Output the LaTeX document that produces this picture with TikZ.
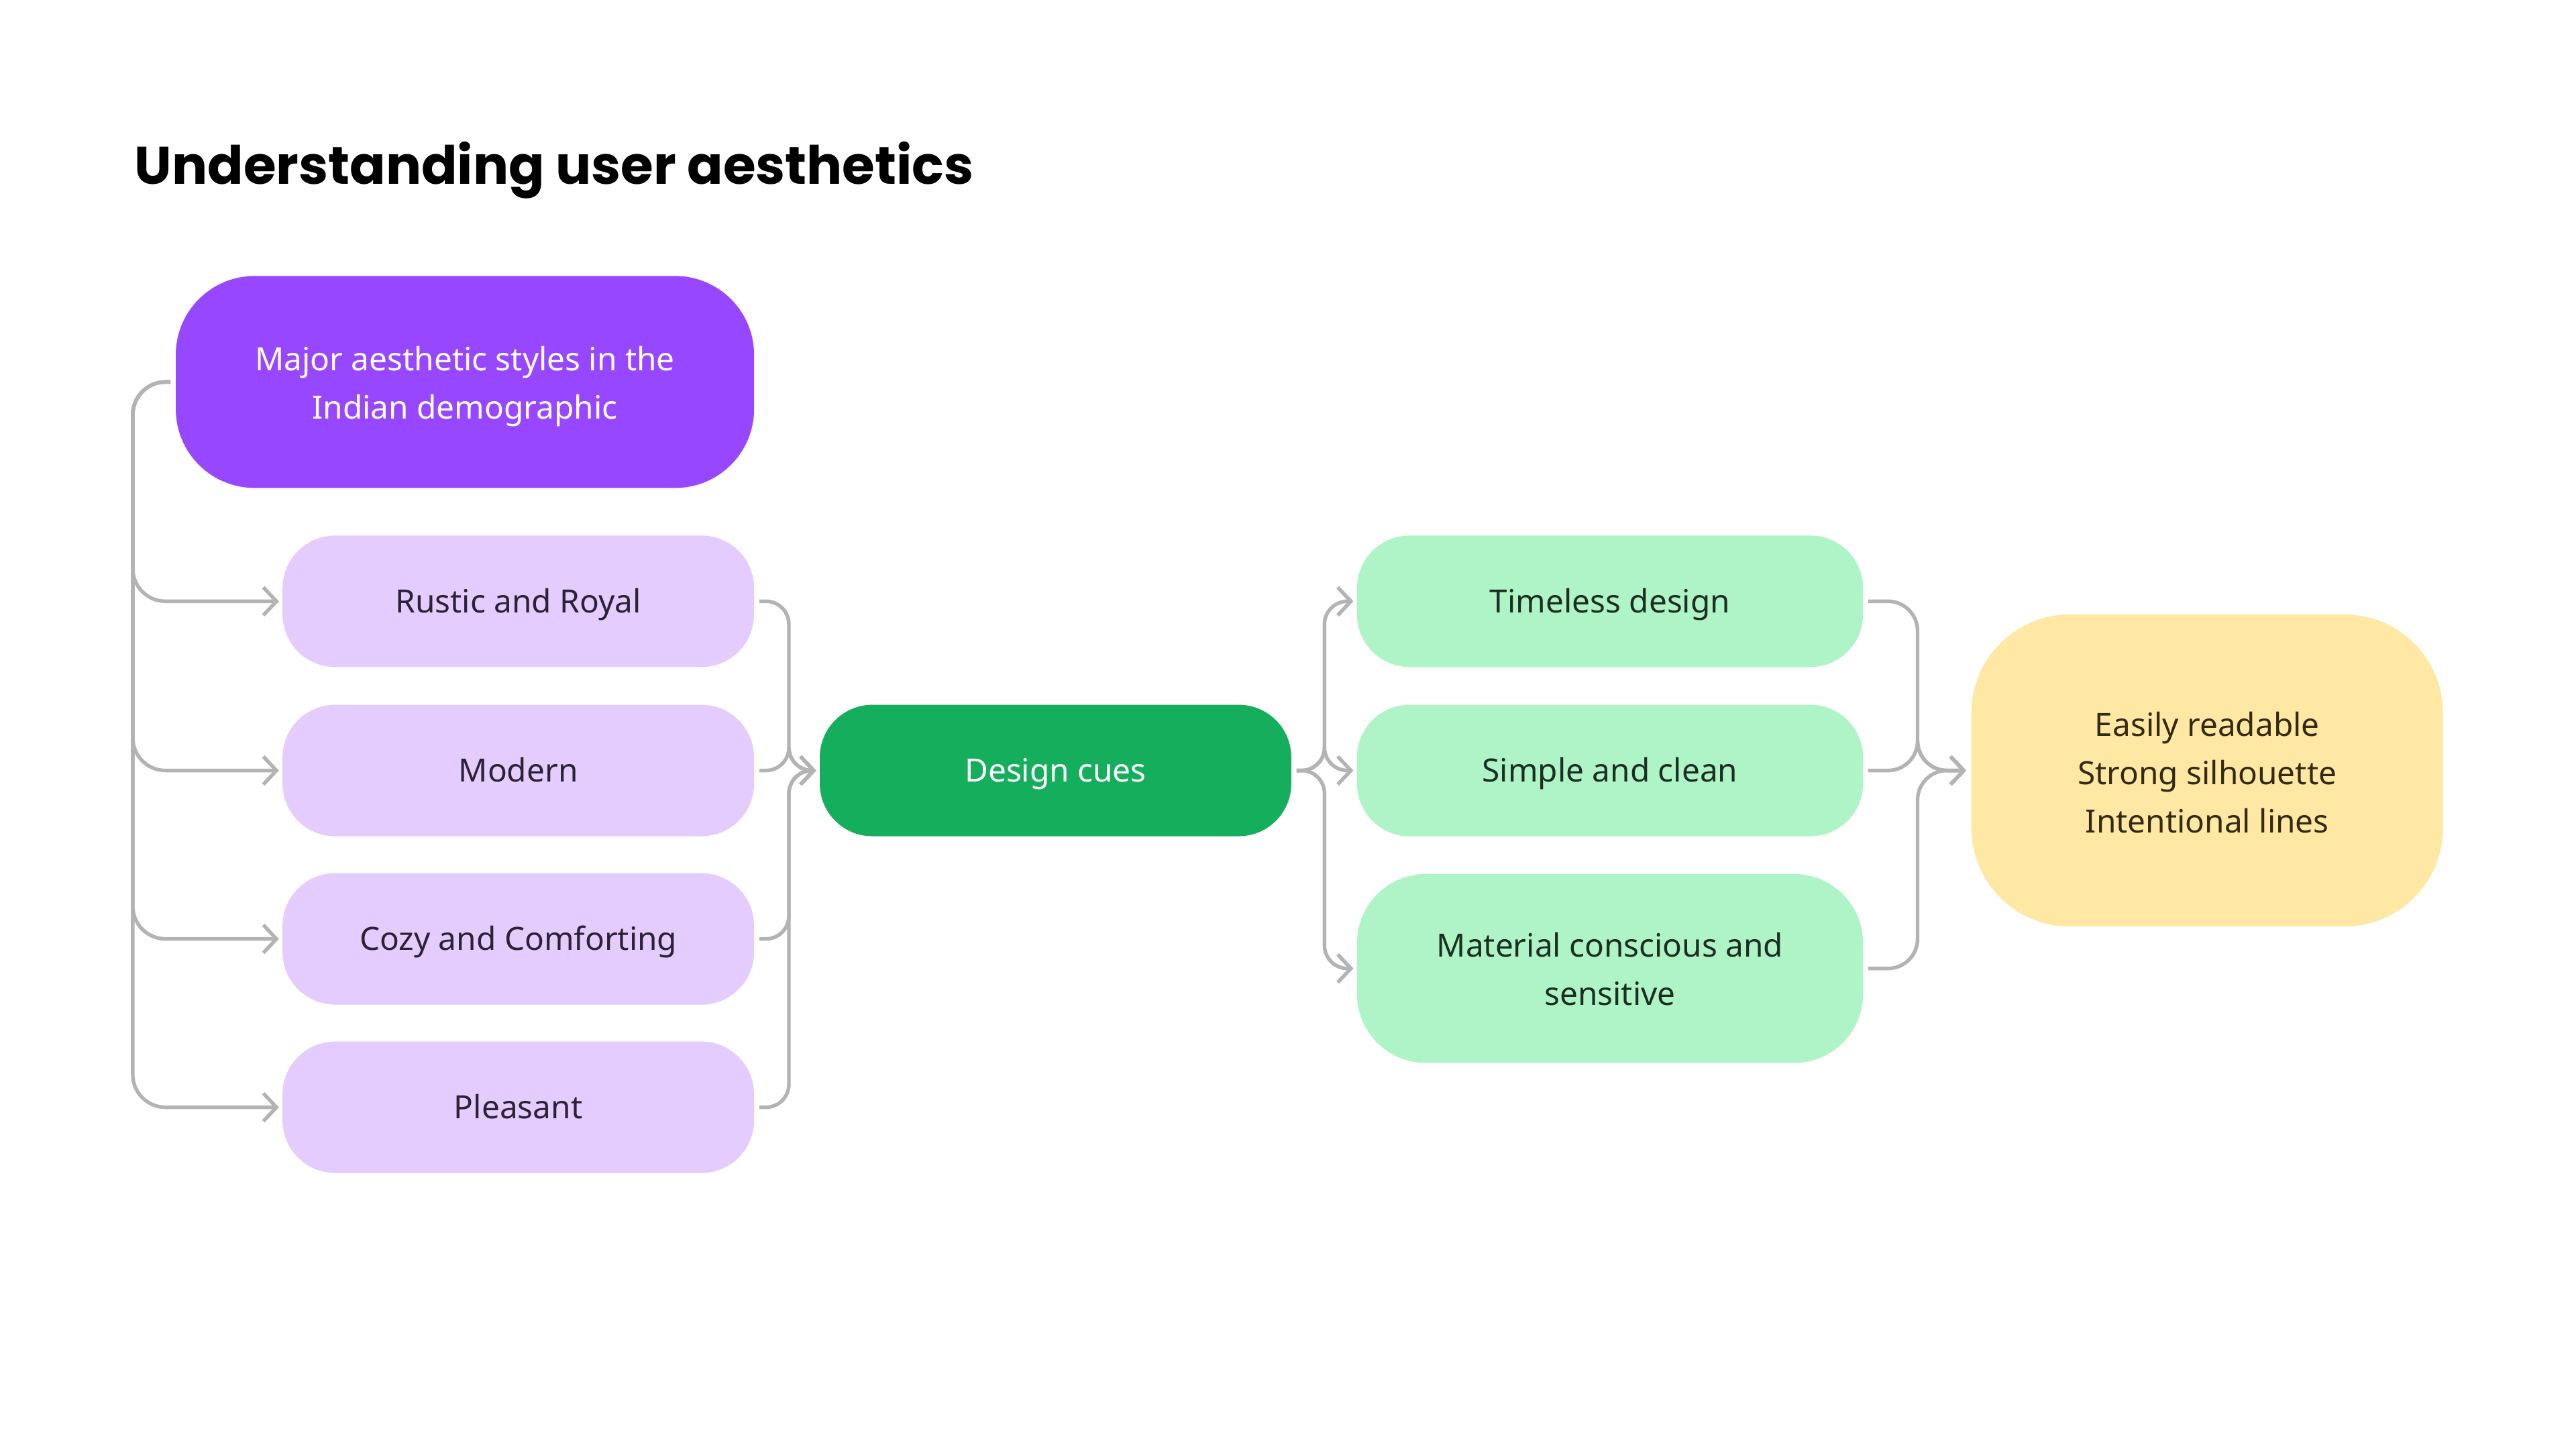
\documentclass[tikz,border=0pt]{standalone}
\usepackage{fontspec}
\setmainfont{Noto Sans}
\newfontfamily\titlefont{Poppins}
\usepackage{xcolor}
\definecolor{purpleUA}{HTML}{9747FF}
\definecolor{lilacUA}{HTML}{E4CCFF}
\definecolor{greenUA}{HTML}{14AE5C}
\definecolor{mintUA}{HTML}{AFF4C6}
\definecolor{yellowUA}{HTML}{FFE8A3}
\definecolor{linkUA}{HTML}{B3B3B3}
\definecolor{lilacTextUA}{HTML}{2B2233}
\definecolor{mintTextUA}{HTML}{1C2E22}
\definecolor{yellowTextUA}{HTML}{332A14}
\usepackage{tikz}
\usetikzlibrary{arrows.meta, positioning}
\tikzset{
  box/.style={rectangle, rounded corners=32pt, minimum width=287pt, minimum height=80pt,
    inner sep=0pt, align=center, font=\fontsize{19.5}{29.5}\selectfont,
    text height=18pt, text depth=4pt},
  two lines/.style={text height=49pt},
  three lines/.style={text height=80pt},
  major box/.style={box, two lines, fill=purpleUA, text=white, minimum width=352pt, minimum height=129pt, rounded corners=48pt},
  style box/.style={box, fill=lilacUA, text=lilacTextUA},
  cue box/.style={box, fill=greenUA, text=white},
  trait box/.style={box, fill=mintUA, text=mintTextUA, minimum width=308pt},
  result box/.style={box, three lines, fill=yellowUA, text=yellowTextUA, minimum height=190pt, rounded corners=60pt},
  link/.style={draw=linkUA, line width=2.2pt, rounded corners=14pt,
    -{Straight Barb[length=8pt,width=17pt]}}
}

\begin{document}
\begin{tikzpicture}[x=1pt, y=-1pt]
% === Canvas ===
\fill[white] (0,0) rectangle (1568,882);
\useasboundingbox (0,0) rectangle (1568,882);

\node[anchor=base west, font=\titlefont\bfseries\fontsize{32.2}{40}\selectfont] (title) at (78.5,112) {Understanding user aesthetics};

% === Aesthetic styles ===
\node[major box] (major) at (283,232.5) {Major aesthetic styles in the\\Indian demographic};
\node[style box] (rustic) at (315.5,366) {Rustic and Royal};
\node[style box] (modern) at (315.5,469) {Modern};
\node[style box] (cozy) at (315.5,571.5) {Cozy and Comforting};
\node[style box] (pleasant) at (315.5,674) {Pleasant};

% === Cues and traits ===
\node[cue box] (cues) at (642.5,469) {Design cues};
\node[trait box] (timeless) at (980,366) {Timeless design};
\node[trait box] (simple) at (980,469) {Simple and clean};
\node[trait box, two lines, minimum height=115pt, rounded corners=42pt] (material) at (980,589.5) {Material conscious and\\sensitive};
\node[result box] (readable) at (1343.5,469) {Easily readable\\Strong silhouette\\Intentional lines};

% === Connectors ===
\foreach \n in {rustic,modern,cozy,pleasant}
  \draw[link, rounded corners=20pt] ([xshift=-3pt]major.west) -- ++(-23,0) |- ([xshift=-2pt]\n.west);
\foreach \n in {rustic,modern,cozy,pleasant}
  \draw[link] ([xshift=3pt]\n.east) -- ++(18,0) |- ([xshift=-2pt]cues.west);
\foreach \n in {timeless,simple,material}
  \draw[link] ([xshift=3pt]cues.east) -- ++(17,0) |- ([xshift=-2pt]\n.west);
\foreach \n in {timeless,simple,material}
  \draw[link, rounded corners=18pt] ([xshift=3pt]\n.east) -- ++(30,0) |- ([xshift=-3pt]readable.west);
\end{tikzpicture}
\end{document}
